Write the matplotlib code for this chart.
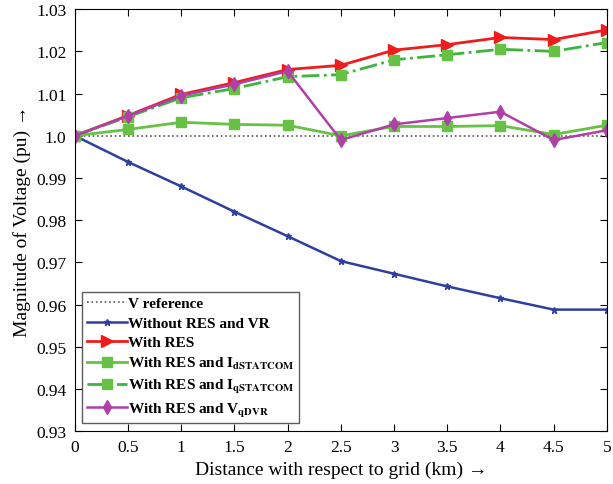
import numpy as np
import matplotlib
matplotlib.use("Agg")
import matplotlib.pyplot as plt

plt.rcParams['font.family'] = ['Liberation Serif', 'DejaVu Sans']
plt.rcParams['mathtext.fontset'] = 'stix'

# distance from grid (km)
dist = [0, 0.5, 1, 1.5, 2, 2.5, 3, 3.5, 4, 4.5, 5]
v_ref = [1.0] * 11
v_none = [1.0, 0.9938, 0.988, 0.982, 0.9762, 0.9703, 0.9673, 0.9643, 0.9615, 0.9588, 0.9588]
v_res = [1.0, 1.0048, 1.0098, 1.0126, 1.0157, 1.0167, 1.0203, 1.0216, 1.0233, 1.0228, 1.0251]
v_id = [1.0, 1.0015, 1.0032, 1.0027, 1.0025, 1.0, 1.0022, 1.0022, 1.0024, 1.0003, 1.0025]
v_iq = [1.0, 1.0045, 1.009, 1.0112, 1.014, 1.0145, 1.018, 1.0192, 1.0205, 1.02, 1.0221]
v_dvr = [1.0, 1.0047, 1.0095, 1.0122, 1.0153, 0.999, 1.0027, 1.0042, 1.0057, 0.999, 1.0013]

xticks = [0, 0.5, 1, 1.5, 2, 2.5, 3, 3.5, 4, 4.5, 5]
xticklabels = ['0', '0.5', '1', '1.5', '2', '2.5', '3', '3.5', '4', '4.5', '5']
yticks = [0.93, 0.94, 0.95, 0.96, 0.97, 0.98, 0.99, 1.0, 1.01, 1.02, 1.03]
yticklabels = ['0.93', '0.94', '0.95', '0.96', '0.97', '0.98', '0.99', '1.0', '1.01', '1.02', '1.03']

fig = plt.figure(figsize=(6.13, 4.85), dpi=100)
ax = fig.add_axes([0.122, 0.109, 0.868, 0.870])

ax.plot(dist, v_ref, ':', color='#555555', lw=1.2, label='V reference')
ax.plot(dist, v_none, '-', color='#2f3f9f', lw=1.8, marker='*', ms=5, label='Without RES and VR')
ax.plot(dist, v_res, '-', color='#ee1c1c', lw=2.0, marker='>', ms=8, label='With RES')
ax.plot(dist, v_id, '-', color='#66c144', lw=2.0, marker='s', ms=7,
        label=r'With RES and I$_{\mathbf{dSTATCOM}}$')
ax.plot(dist, v_iq, '-.', color='#3db43d', lw=2.0, marker='s', ms=7, mfc='#66c144', mec='#66c144',
        label=r'With RES and I$_{\mathbf{qSTATCOM}}$')
ax.plot(dist, v_dvr, '-', color='#b040a8', lw=1.8, marker='d', ms=7,
        label=r'With RES and V$_{\mathbf{qDVR}}$')

ax.set_xlim(0, 5)
ax.set_ylim(0.93, 1.03)
ax.set_xticks(xticks)
ax.set_xticklabels(xticklabels)
ax.set_yticks(yticks)
ax.set_yticklabels(yticklabels)
ax.tick_params(direction='in', top=True, right=True, labelsize=12.5, length=5, pad=6)
ax.set_xlabel('Distance with respect to grid (km) →', fontsize=14, labelpad=4)
ax.set_ylabel('Magnitude of Voltage (pu) →', fontsize=14, labelpad=4)

leg = ax.legend(loc='lower left', prop={'weight': 'bold', 'size': 11},
                frameon=True, fancybox=False, edgecolor='#333333', handlelength=2.6,
                handletextpad=0.1, borderpad=0.3, labelspacing=0.38, borderaxespad=0.5)
leg.get_frame().set_linewidth(1.0)

fig.savefig('out.png', dpi=100)
